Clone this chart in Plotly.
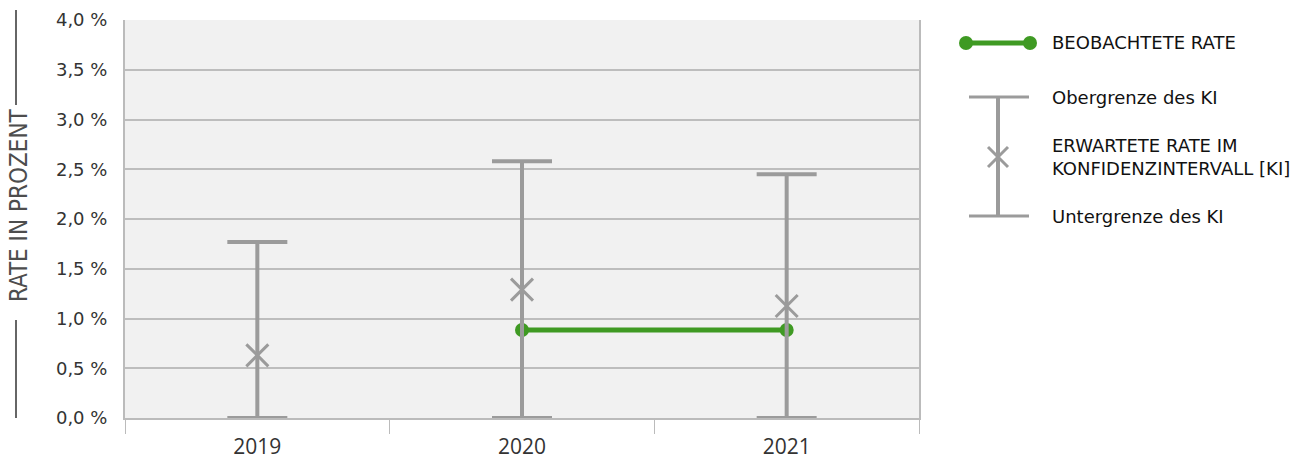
import plotly.graph_objects as go

# data (rates in %)
years = ["2019", "2020", "2021"]
erwartet = [0.63, 1.29, 1.125]
ki_oben = [1.77, 2.58, 2.45]
ki_unten = [0.0, 0.0, 0.0]
beob_years = ["2020", "2021"]
beobachtet = [0.885, 0.885]

grau = "#9b9b9b"
gruen = "#3f9a23"

fig = go.Figure()

# observed rate (green line with dots)
fig.add_trace(go.Scatter(
    x=beob_years, y=beobachtet, mode="lines+markers",
    line=dict(color=gruen, width=5),
    marker=dict(color=gruen, size=14),
    showlegend=False, hoverinfo="skip"))

# expected rate with confidence interval
fig.add_trace(go.Scatter(
    x=years, y=erwartet, mode="markers",
    marker=dict(symbol="x-thin", size=22, line=dict(color=grau, width=3)),
    error_y=dict(type="data", symmetric=False,
                 array=[o - e for o, e in zip(ki_oben, erwartet)],
                 arrayminus=[e - u for e, u in zip(erwartet, ki_unten)],
                 color=grau, thickness=4, width=30),
    showlegend=False, hoverinfo="skip"))

W, H = 1311, 463
# plot area in px: x 125..919, y 20..418
L, R, T, B = 125, 919, 20, 418
def px(x):
    return (x - L) / (R - L)
def py(y):
    return (B - y) / (B - T)

shapes = []
annots = []

# y axis title with decorative lines
annots.append(dict(text="RATE IN PROZENT", x=px(19), y=py(205), xref="paper", yref="paper",
                   textangle=-90, showarrow=False, xanchor="center", yanchor="middle",
                   font=dict(family="DejaVu Sans Condensed, Liberation Sans Narrow, DejaVu Sans",
                             size=24, color="#4d4d4d")))
for y0, y1 in [(10, 105), (320, 418)]:
    shapes.append(dict(type="line", xref="paper", yref="paper", x0=px(16), x1=px(16),
                       y0=py(y0), y1=py(y1), line=dict(color="#666666", width=2)))

# legend drawn by hand
shapes.append(dict(type="line", xref="paper", yref="paper", x0=px(966), x1=px(1030),
                   y0=py(43), y1=py(43), line=dict(color=gruen, width=5)))
for cx in [966, 1030]:
    shapes.append(dict(type="circle", xref="paper", yref="paper", x0=px(cx - 7), x1=px(cx + 7),
                       y0=py(43 + 7), y1=py(43 - 7), fillcolor=gruen, line=dict(width=0)))
shapes.append(dict(type="line", xref="paper", yref="paper", x0=px(998), x1=px(998),
                   y0=py(97), y1=py(216), line=dict(color=grau, width=4)))
for yy in [97, 216]:
    shapes.append(dict(type="line", xref="paper", yref="paper", x0=px(969), x1=px(1029),
                       y0=py(yy), y1=py(yy), line=dict(color=grau, width=3)))
for dx in [(-10, 10), (10, -10)]:
    shapes.append(dict(type="line", xref="paper", yref="paper", x0=px(998 + dx[0]), x1=px(998 + dx[1]),
                       y0=py(147), y1=py(167), line=dict(color=grau, width=3)))

leg_font = dict(family="DejaVu Sans", size=18, color="#111111")
for txt, yy in [("BEOBACHTETE RATE", 43), ("Obergrenze des KI", 97),
                ("ERWARTETE RATE IM<br>KONFIDENZINTERVALL [KI]", 157), ("Untergrenze des KI", 216)]:
    annots.append(dict(text=txt, x=px(1050), y=py(yy), xref="paper", yref="paper",
                       showarrow=False, xanchor="left", yanchor="middle", align="left",
                       font=leg_font))

fig.update_layout(
    width=W, height=H,
    margin=dict(l=L, r=W - R, t=T, b=H - B),
    paper_bgcolor="white", plot_bgcolor="#f1f1f1",
    separators=",.",
    shapes=shapes, annotations=annots,
    showlegend=False,
)
fig.update_xaxes(type="category", categoryorder="array", categoryarray=years,
                 range=[-0.5, 2.5], showgrid=False, automargin=False,
                 showline=True, linecolor="#bbbbbb", linewidth=2,
                 ticks="outside", tickson="boundaries", ticklen=14, tickcolor="#bbbbbb",
                 ticklabelstandoff=9,
                 tickfont=dict(family="Open Sans", size=21, color="#333333"))
fig.update_yaxes(range=[0, 4], dtick=0.5, tickformat=".1f", ticksuffix=" %",
                 showgrid=True, gridcolor="#bdbdbd", gridwidth=2, automargin=False,
                 showline=True, mirror=True, linecolor="#bbbbbb", linewidth=2,
                 zeroline=False, ticks="", ticklabelstandoff=12,
                 tickfont=dict(family="DejaVu Sans", size=18, color="#333333"))

# drop the default body margin so the figure sits at the window's corner
fig.write_html("out.html", config={"displayModeBar": False},
               post_script="document.body.style.margin='0';")
